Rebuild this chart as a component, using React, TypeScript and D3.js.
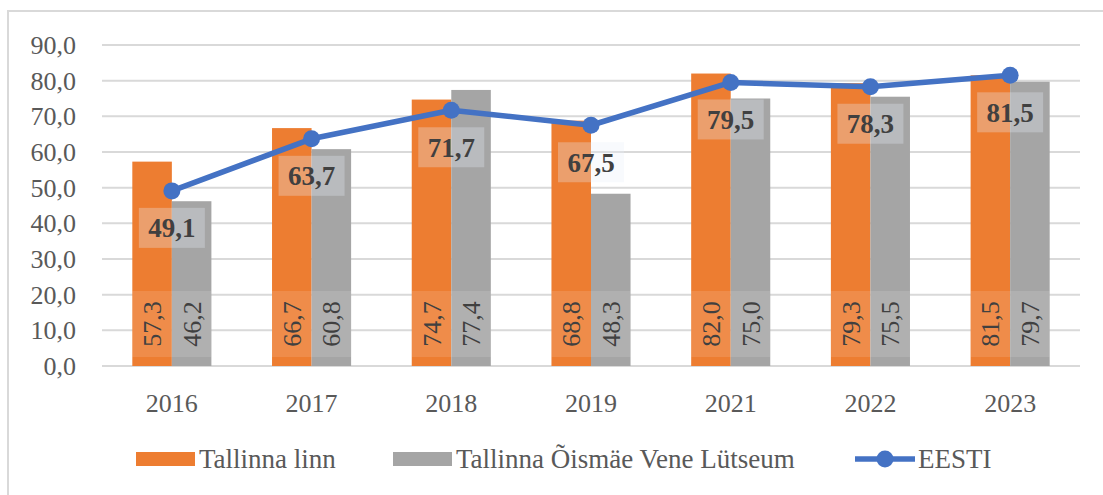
import React, { useRef, useEffect } from 'react'
import { select, scaleBand, scaleLinear, line } from 'd3'

const years = ['2016', '2017', '2018', '2019', '2021', '2022', '2023']
const tallinn = [57.3, 66.7, 74.7, 68.8, 82.0, 79.3, 81.5]
const oismae = [46.2, 60.8, 77.4, 48.3, 75.0, 75.5, 79.7]
const eesti = [49.1, 63.7, 71.7, 67.5, 79.5, 78.3, 81.5]
const yTicks = [0, 10, 20, 30, 40, 50, 60, 70, 80, 90]
const seriesNames = ['Tallinna linn', 'Tallinna Õismäe Vene Lütseum', 'EESTI']

const fmt = (v: number) => v.toFixed(1).replace('.', ',')

const App = () => {
  const svgRef = useRef<SVGSVGElement>(null)

  useEffect(() => {
    const svg = select(svgRef.current)
    svg.selectAll('*').remove()

    const W = 1103, H = 495
    const margin = { top: 45, right: 23, bottom: 129, left: 102 }
    const w = W - margin.left - margin.right
    const h = H - margin.top - margin.bottom

    // outer frame (right/bottom edges fall outside the picture)
    svg.append('rect')
      .attr('x', 8).attr('y', 11).attr('width', 1120).attr('height', 520)
      .attr('fill', 'white').attr('stroke', '#d9d9d9').attr('stroke-width', 2)

    const g = svg.append('g').attr('transform', `translate(${margin.left},${margin.top})`)

    const x = scaleBand().domain(years).range([0, w])
    const y = scaleLinear().domain([0, 90]).range([h, 0])
    const barW = x.bandwidth() * 0.283
    const cx = (d: string) => x(d)! + x.bandwidth() / 2

    // gridlines
    g.selectAll('.grid')
      .data(yTicks)
      .join('line')
      .attr('x1', 0).attr('x2', w)
      .attr('y1', d => y(d)).attr('y2', d => y(d))
      .attr('stroke', '#d9d9d9').attr('stroke-width', 2)

    // y labels
    g.selectAll('.ylab')
      .data(yTicks)
      .join('text')
      .attr('x', -26).attr('y', d => y(d))
      .attr('dy', '0.35em')
      .attr('text-anchor', 'end')
      .attr('font-size', 26)
      .attr('fill', '#595959')
      .text(d => fmt(d))

    // x labels
    g.selectAll('.xlab')
      .data(years)
      .join('text')
      .attr('x', d => cx(d)).attr('y', h + 46)
      .attr('text-anchor', 'middle')
      .attr('font-size', 26)
      .attr('fill', '#595959')
      .text(d => d)

    const series = [
      { vals: tallinn, color: '#ed7d31', off: -barW },
      { vals: oismae, color: '#a5a5a5', off: 0 },
    ]

    series.forEach(s => {
      g.selectAll(null)
        .data(years)
        .join('rect')
        .attr('x', d => cx(d) + s.off)
        .attr('y', (d, i) => y(s.vals[i]))
        .attr('width', barW)
        .attr('height', (d, i) => h - y(s.vals[i]))
        .attr('fill', s.color)
    })

    // bar value labels (rotated, at base)
    series.forEach(s => {
      const lg = g.selectAll(null)
        .data(years)
        .join('g')
        .attr('transform', d => `translate(${cx(d) + s.off + barW / 2},${h - 42}) rotate(-90)`)
      lg.append('rect')
        .attr('x', -33).attr('y', -barW / 2)
        .attr('width', 66).attr('height', barW)
        .attr('fill', 'white').attr('opacity', 0.12)
      lg.append('text')
        .attr('dy', '0.35em')
        .attr('text-anchor', 'middle')
        .attr('font-size', 26)
        .attr('fill', '#404040')
        .text((d, i) => fmt(s.vals[i]))
    })

    // EESTI line
    const path = line<number>()
      .x((d, i) => cx(years[i]))
      .y(d => y(d))

    g.append('path')
      .datum(eesti)
      .attr('d', path)
      .attr('fill', 'none')
      .attr('stroke', '#4472c4')
      .attr('stroke-width', 5.5)
      .attr('stroke-linejoin', 'round')

    g.selectAll('.dot')
      .data(eesti)
      .join('circle')
      .attr('cx', (d, i) => cx(years[i]))
      .attr('cy', d => y(d))
      .attr('r', 8.5)
      .attr('fill', '#4472c4')

    // line labels
    const ll = g.selectAll(null)
      .data(eesti)
      .join('g')
      .attr('transform', (d, i) => `translate(${cx(years[i])},${y(d) + 37})`)
    ll.append('rect')
      .attr('x', -33).attr('y', -20)
      .attr('width', 66).attr('height', 40)
      .attr('fill', '#e8eef8').attr('opacity', 0.3)
    ll.append('text')
      .attr('dy', '0.35em')
      .attr('text-anchor', 'middle')
      .attr('font-size', 27).attr('font-weight', 'bold')
      .attr('fill', '#404040')
      .text(d => fmt(d))

    // legend
    const leg = svg.append('g').attr('transform', 'translate(0,459)')
    const items = [
      { x: 136, name: seriesNames[0], color: '#ed7d31', kind: 'bar' },
      { x: 393, name: seriesNames[1], color: '#a5a5a5', kind: 'bar' },
      { x: 855, name: seriesNames[2], color: '#4472c4', kind: 'line' },
    ]
    items.forEach(it => {
      if (it.kind === 'bar') {
        leg.append('rect')
          .attr('x', it.x).attr('y', -7).attr('width', 59).attr('height', 14)
          .attr('fill', it.color)
      } else {
        leg.append('line')
          .attr('x1', it.x).attr('x2', it.x + 60).attr('y1', 0).attr('y2', 0)
          .attr('stroke', it.color).attr('stroke-width', 5.5)
        leg.append('circle')
          .attr('cx', it.x + 30).attr('cy', 0).attr('r', 8.5).attr('fill', it.color)
      }
      leg.append('text')
        .attr('x', it.x + 63).attr('dy', '0.35em')
        .attr('font-size', 27)
        .attr('fill', '#595959')
        .text(it.name)
    })

    svg.selectAll('text').style('font-family', '"Times New Roman", Times, "Liberation Serif", "DejaVu Serif", "Noto Serif", serif')
  }, [])

  return (
    <svg ref={svgRef} width={1103} height={495}
      style={{ position: 'absolute', left: 0, top: 0, background: 'white' }} />
  )
}

export default App
